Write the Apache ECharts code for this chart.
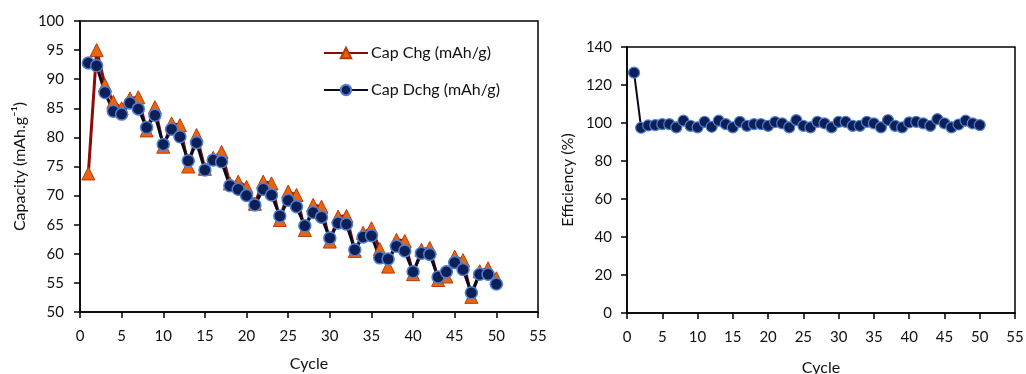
<!DOCTYPE html>
<html>
<head>
<meta charset="utf-8">
<script src="https://cdn.jsdelivr.net/npm/echarts@6/dist/echarts.min.js"></script>
<style>
  html, body { margin: 0; padding: 0; background: #fff; }
  #chart { width: 1026px; height: 374px; }
</style>
</head>
<body>
<div id="chart"></div>
<script>
// Cycle numbers
const cycles = [1, 2, 3, 4, 5, 6, 7, 8, 9, 10, 11, 12, 13, 14, 15, 16, 17, 18, 19, 20,
  21, 22, 23, 24, 25, 26, 27, 28, 29, 30, 31, 32, 33, 34, 35, 36, 37, 38, 39, 40,
  41, 42, 43, 44, 45, 46, 47, 48, 49, 50];

// Charge capacity (mAh/g)
const capChg = [73.8, 95.0, 89.0, 86.1, 85.0, 86.7, 86.9, 81.2, 85.2, 78.4,
  82.4, 82.1, 75.0, 80.4, 74.6, 76.5, 77.5, 72.1, 72.4, 71.5,
  68.6, 72.4, 72.1, 65.8, 70.7, 70.1, 64.1, 68.4, 68.1, 62.1,
  66.4, 66.5, 60.5, 63.6, 64.4, 60.8, 57.8, 62.4, 62.2, 56.5,
  60.7, 61.0, 55.5, 56.1, 59.5, 58.9, 52.6, 57.0, 57.5, 55.8];

// Discharge capacity (mAh/g)
const capDchg = [92.8, 92.3, 87.7, 84.5, 84.0, 85.9, 84.9, 81.7, 83.8, 78.8,
  81.4, 80.1, 76.0, 79.1, 74.4, 76.1, 75.8, 71.7, 71.1, 70.0,
  68.4, 71.1, 70.1, 66.5, 69.2, 68.1, 64.8, 67.1, 66.3, 62.7,
  65.3, 65.1, 60.7, 62.9, 63.1, 59.3, 59.1, 61.3, 60.5, 56.9,
  60.1, 59.9, 56.0, 56.9, 58.5, 57.3, 53.3, 56.5, 56.5, 54.8];

// Coulombic efficiency (%)
const efficiency = [126.5, 97.5, 98.7, 98.9, 99.4, 99.4, 97.7, 101.2, 98.5, 97.7,
  100.6, 98.0, 101.2, 99.4, 97.7, 100.6, 98.5, 99.4, 99.4, 98.5,
  100.5, 99.8, 97.7, 101.5, 98.5, 97.7, 100.6, 99.8, 97.7, 100.6,
  100.6, 98.5, 98.5, 100.6, 99.8, 97.7, 101.5, 98.5, 97.7, 100.3,
  100.6, 99.8, 98.5, 102.0, 99.8, 97.7, 99.2, 101.2, 99.8, 98.9];

const pairs = (ys) => cycles.map((c, i) => [c, ys[i]]);

const FONT = 'Lato';
const TXT = '#111';

function xAxisCfg(gridIndex, gap) {
  return {
    type: 'value', gridIndex, min: 0, max: 55, interval: 5,
    name: 'Cycle', nameLocation: 'middle', nameGap: gap,
    nameTextStyle: { fontFamily: FONT, fontSize: 16, color: TXT },
    axisLine: { show: true, onZero: false, lineStyle: { color: '#000', width: 1.5 } },
    axisTick: { show: true, inside: false, length: 6, lineStyle: { color: '#000', width: 1.5 } },
    axisLabel: { fontFamily: FONT, fontSize: 15, color: TXT, margin: 17 },
    splitLine: { show: false }
  };
}

function yAxisCfg(gridIndex, min, max, interval, name, gap, margin) {
  return {
    type: 'value', gridIndex, min, max, interval,
    name, nameLocation: 'middle', nameGap: gap,
    nameTextStyle: { fontFamily: FONT, fontSize: 16, color: TXT },
    axisLine: { show: true, lineStyle: { color: '#000', width: 1.5 } },
    axisTick: { show: true, inside: false, length: 6, lineStyle: { color: '#000', width: 1.5 } },
    axisLabel: { fontFamily: FONT, fontSize: 15, color: TXT, margin },
    splitLine: { show: false }
  };
}

const chart = echarts.init(document.getElementById('chart'), null, { renderer: 'canvas' });

chart.setOption({
  backgroundColor: '#fff',
  animation: false,
  grid: [
    { left: 80, right: 488, top: 21, bottom: 62, outerBoundsMode: 'none',
      show: true, borderColor: '#000', borderWidth: 1.5 },
    { left: 627, right: 11, top: 47, bottom: 61, outerBoundsMode: 'none',
      show: true, borderColor: '#000', borderWidth: 1.5 }
  ],
  legend: {
    data: ['Cap Chg (mAh/g)', 'Cap Dchg (mAh/g)'],
    orient: 'vertical', left: 318, top: 40,
    itemWidth: 44, itemHeight: 13, itemGap: 21,
    textStyle: { fontFamily: FONT, fontSize: 16, color: TXT, padding: [0, 0, 0, -2] }
  },
  xAxis: [xAxisCfg(0, 44), xAxisCfg(1, 47)],
  yAxis: [
    yAxisCfg(0, 50, 100, 5, 'Capacity (mAh.g\u207B\u00B9)', 52, 16),
    yAxisCfg(1, 0, 140, 20, 'Efficiency (%)', 51, 15)
  ],
  series: [
    {
      name: 'Cap Chg (mAh/g)', type: 'line', xAxisIndex: 0, yAxisIndex: 0,
      data: pairs(capChg),
      symbol: 'triangle', symbolSize: 13, showAllSymbol: true,
      lineStyle: { color: '#8b0a0a', width: 3 },
      itemStyle: { color: '#e8650f', borderColor: '#b83a08', borderWidth: 1 }
    },
    {
      name: 'Cap Dchg (mAh/g)', type: 'line', xAxisIndex: 0, yAxisIndex: 0,
      data: pairs(capDchg),
      symbol: 'circle', symbolSize: 12, showAllSymbol: true,
      lineStyle: { color: '#0b0b1e', width: 3 },
      itemStyle: { color: '#0c2057', borderColor: '#4f7fd0', borderWidth: 1.5 }
    },
    {
      name: 'Efficiency', type: 'line', xAxisIndex: 1, yAxisIndex: 1,
      data: pairs(efficiency),
      symbol: 'circle', symbolSize: 11, showAllSymbol: true,
      lineStyle: { color: '#0b0b1e', width: 2 },
      itemStyle: { color: '#0c2057', borderColor: '#4f7fd0', borderWidth: 1.2 }
    }
  ]
});
</script>
</body>
</html>
